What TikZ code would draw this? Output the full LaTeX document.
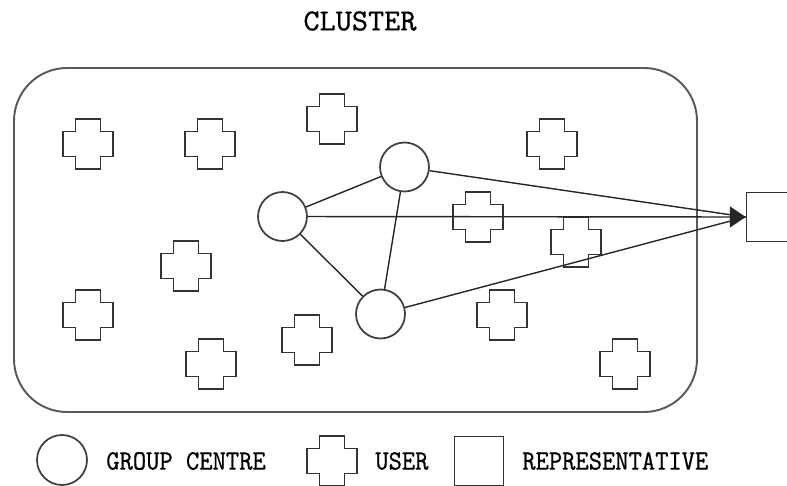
\documentclass[tikz,border=0pt]{standalone}
\usepackage{fontspec}
\newfontfamily\titlefont[FakeBold=0.6]{lmmono10-regular.otf}
\newfontfamily\keyfont[FakeStretch=0.9, FakeBold=0.6]{lmmono10-regular.otf}
\usetikzlibrary{arrows.meta}

\tikzset{
  centre/.style={draw=black!75, line width=1pt, circle, minimum size=0.98cm, inner sep=0pt},
  repbox/.style={draw=black!80, line width=1pt, minimum size=0.98cm, inner sep=0pt},
  link/.style={draw=black!85, line width=0.8pt},
  keytext/.style={anchor=west, inner sep=0pt, font=\keyfont\fontsize{16}{18}\selectfont},
  usercross/.pic={
    \draw[black!80, line width=1.1pt]
      (-12.5,-25) -- (12.5,-25) -- (12.5,-12.5) -- (25,-12.5) -- (25,12.5) -- (12.5,12.5)
      -- (12.5,25) -- (-12.5,25) -- (-12.5,12.5) -- (-25,12.5) -- (-25,-12.5) -- (-12.5,-12.5) -- cycle;
  },
}

\begin{document}
\begin{tikzpicture}[x=0.02cm,y=-0.02cm]
  \clip (0,0) rectangle (787,486);

  % cluster boundary and its name
  \draw[black!65, line width=1.1pt, rounded corners=1.06cm] (14,68) rectangle (697,412);
  \node[font=\titlefont\fontsize{17.5}{20}\selectfont] (title) at (360,21) {CLUSTER};

  % users
  \foreach \ux/\uy in {88/144, 210/144, 332/119, 552/144, 478/217, 576/242,
                       186/266, 88/315, 211/364, 307/340, 502/315, 625/364}
    \pic at (\ux,\uy) {usercross};

  % group centres and the representative
  \node[centre] (gcl) at (282.5,216.5) {};
  \node[centre] (gct) at (404.5,167) {};
  \node[centre] (gcb) at (380.5,314) {};
  \node[repbox] (rep) at (771,217) {};

  \draw[link] (gcl) -- (gct);
  \draw[link] (gcl) -- (gcb);
  \draw[link] (gct) -- (gcb);
  \draw[link] (gct) -- (rep.west);
  \draw[link] (gcb) -- (rep.west);
  \draw[link, -{Triangle[length=9pt, width=12pt]}] (gcl) -- (rep.west);

  % legend
  \node[centre, minimum size=1cm] (keycentre) at (62,460) {};
  \node[keytext] (keycentretext) at (106,461) {GROUP CENTRE};
  \pic at (332,461) {usercross};
  \node[keytext] (keyusertext) at (375,461) {USER};
  \node[repbox] (keyrep) at (479,461) {};
  \node[keytext] (keyreptext) at (522,461) {REPRESENTATIVE};
\end{tikzpicture}
\end{document}
